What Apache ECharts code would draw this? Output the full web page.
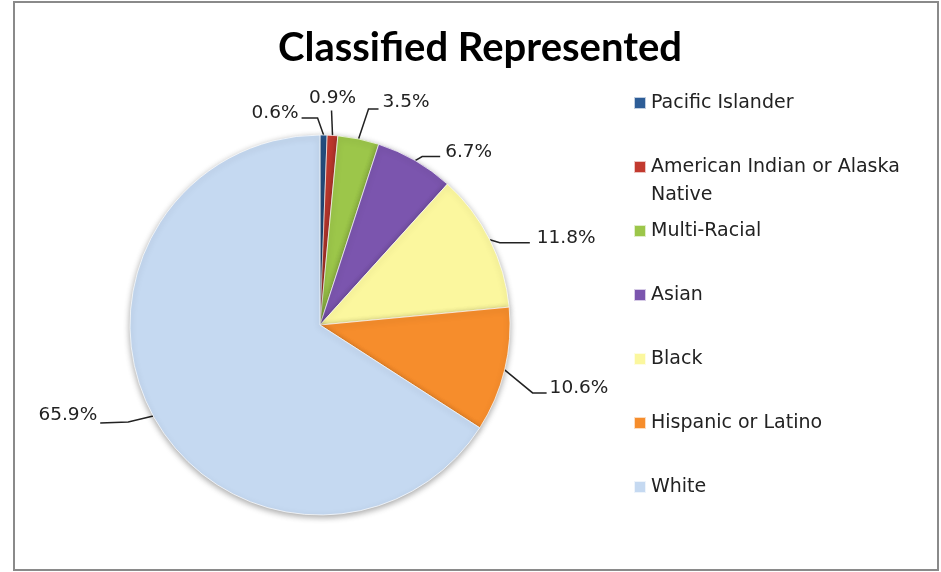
<!DOCTYPE html>
<html>
<head>
<meta charset="utf-8">
<script src="https://cdn.jsdelivr.net/npm/echarts@6/dist/echarts.min.js"></script>
<style>
  html, body { margin: 0; padding: 0; background: #fff; }
  #chart { width: 941px; height: 572px; }
</style>
</head>
<body>
<div id="chart"></div>
<script>
// Share of classified staff by race / ethnicity (percent)
const categories = [
  'Pacific Islander',
  'American Indian or Alaska Native',
  'Multi-Racial',
  'Asian',
  'Black',
  'Hispanic or Latino',
  'White'
];
const shares = [0.6, 0.9, 3.5, 6.7, 11.8, 10.6, 65.9];
const sliceColors = ['#2d5d97', '#c23a2f', '#9cc64a', '#7b55ae', '#fbf79e', '#f68d2c', '#c5d9f1'];
// legend text that wraps onto a second line
const legendNames = {
  'American Indian or Alaska Native': 'American Indian or Alaska\nNative'
};

// Callout geometry for each slice label, as offsets from the point where the
// leader line leaves the slice edge: elbow, end of the leader, text anchor.
const callouts = [
  { elbow: [-6, -17], end: [-22, -17], text: [-25, -22], align: 'right' },
  { elbow: [-1, -25], end: [-1, -25],  text: [0, -37],   align: 'center' },
  { elbow: [10, -30], end: [20, -30],  text: [24, -37],  align: 'left' },
  { elbow: [7, -4],   end: [25, -4],   text: [30, -8],   align: 'left' },
  { elbow: [10, 3],   end: [40, 3],    text: [47, -2],   align: 'left' },
  { elbow: [28, 23],  end: [42, 23],   text: [45, 18],   align: 'left' },
  { elbow: [-25, 6],  end: [-53, 7],   text: [-56, -1],  align: 'right' }
];

const chart = echarts.init(document.getElementById('chart'), null, { renderer: 'canvas' });

const textFont = 'DejaVu Sans';
const legendLine = 28;

// one legend block per category, stacked down the right-hand side
const legends = categories.map((name, i) => {
  const twoLine = !!legendNames[name];
  const iconCenter = 103 + i * 64;
  return {
    data: [name],
    orient: 'vertical',
    left: 633,
    top: twoLine ? iconCenter - legendLine * 1.5 : iconCenter - legendLine / 2,
    padding: 0,
    icon: 'rect',
    itemWidth: 12,
    itemHeight: 12,
    itemGap: 0,
    selectedMode: false,
    // a leading blank line keeps the marker level with the first text line
    formatter: n => (legendNames[n] ? '\n' + legendNames[n] : n),
    textStyle: {
      fontFamily: textFont,
      fontSize: 19,
      color: '#222',
      lineHeight: legendLine
    }
  };
});

chart.setOption({
  backgroundColor: '#fff',
  animation: false,
  color: sliceColors,
  title: {
    text: 'Classified Represented',
    left: 475,
    textAlign: 'center',
    top: 23,
    textStyle: {
      fontFamily: 'Lato',
      fontWeight: 'bold',
      fontSize: 40,
      color: '#000'
    }
  },
  legend: legends,
  graphic: [{
    type: 'rect',
    shape: { x: 14, y: 2, width: 924, height: 568 },
    style: { fill: 'none', stroke: '#8a8a8a', lineWidth: 2 },
    silent: true
  }],
  series: [{
    type: 'pie',
    center: [320, 325],
    radius: 190,
    startAngle: 90,
    clockwise: true,
    avoidLabelOverlap: false,
    data: categories.map((name, i) => ({ name, value: shares[i] })),
    itemStyle: {
      borderColor: 'rgba(255,255,255,0.7)',
      borderWidth: 1,
      shadowBlur: 6,
      shadowColor: 'rgba(0,0,0,0.35)',
      shadowOffsetY: 2
    },
    label: {
      show: true,
      formatter: p => p.value.toFixed(1) + '%',
      fontFamily: textFont,
      fontSize: 18.5,
      color: '#222'
    },
    labelLine: {
      show: true,
      length: 15,
      length2: 25,
      lineStyle: { color: '#222', width: 1.5 }
    },
    labelLayout: params => {
      const c = callouts[params.dataIndex];
      const pts = params.labelLinePoints;
      if (!c || !pts) return {};
      const [ex, ey] = pts[0];
      return {
        x: ex + c.text[0],
        y: ey + c.text[1],
        align: c.align,
        verticalAlign: 'middle',
        labelLinePoints: [
          [ex, ey],
          [ex + c.elbow[0], ey + c.elbow[1]],
          [ex + c.end[0], ey + c.end[1]]
        ]
      };
    }
  }]
});
</script>
</body>
</html>
